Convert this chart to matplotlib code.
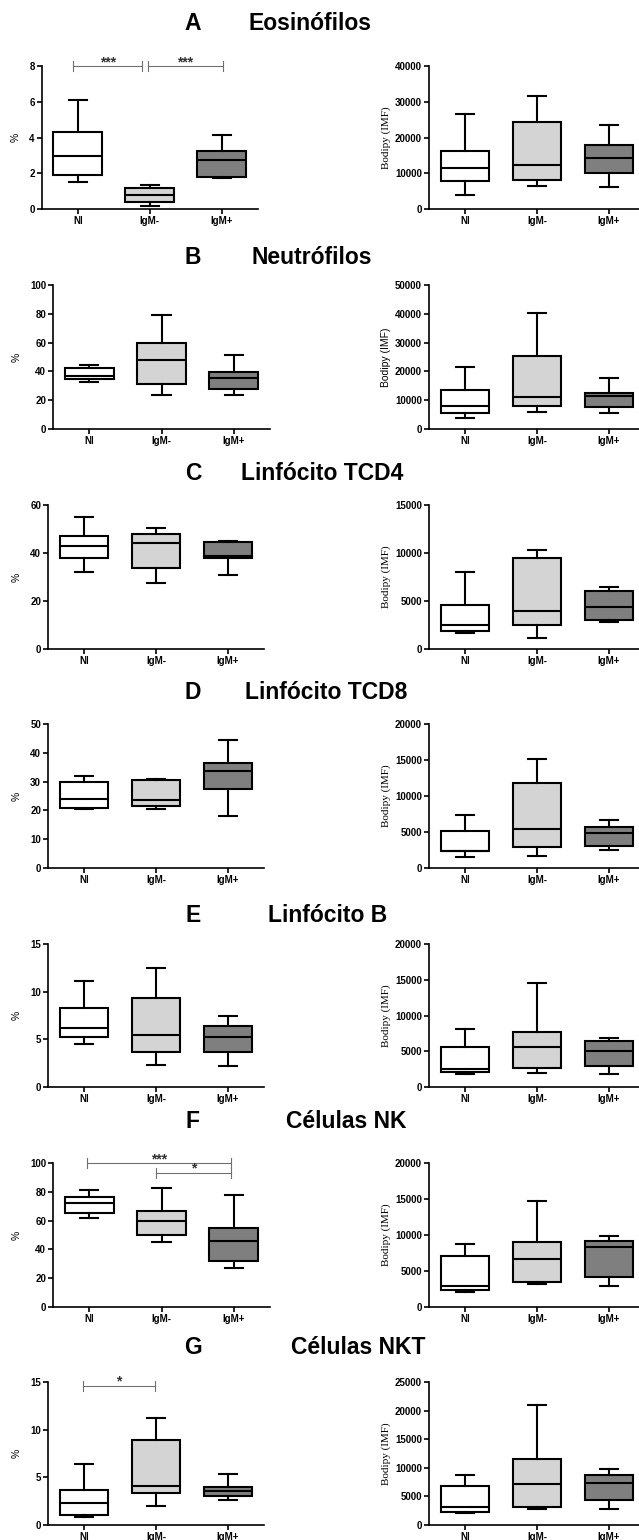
import matplotlib
matplotlib.use("Agg")
import matplotlib.pyplot as plt

W, H = 639, 1540
DPI = 100

categories = ["NI", "IgM-", "IgM+"]
box_colors = ["#ffffff", "#d4d4d4", "#7f7f7f"]

letters = ["A", "B", "C", "D", "E", "F", "G"]
names = ["Eosinófilos", "Neutrófilos", "Linfócito TCD4", "Linfócito TCD8",
         "Linfócito B", "Células NK", "Células NKT"]

# each group: [whisker low, Q1, median, Q3, whisker high]
eos_pct = [[1.51, 1.92, 2.98, 4.33, 6.07], [0.19, 0.39, 0.76, 1.17, 1.36], [1.73, 1.79, 2.72, 3.27, 4.13]]
eos_imf = [[4000, 7700, 11400, 16200, 26500], [6300, 8150, 12300, 24200, 31500], [6100, 10200, 14200, 18000, 23600]]
neu_pct = [[32.6, 34.4, 36.5, 42.7, 44.1], [23.3, 31.2, 47.8, 59.6, 79.2], [23.3, 27.7, 35.3, 39.3, 51.7]]
neu_imf = [[3700, 5400, 7850, 13400, 21700], [6000, 7850, 11000, 25300, 40400], [5500, 7500, 11500, 12600, 17800]]
cd4_pct = [[31.9, 38.1, 43.1, 47.1, 55.0], [27.6, 33.6, 44.2, 48.1, 50.3], [30.7, 37.8, 38.6, 44.5, 45.2]]
cd4_imf = [[1670, 1880, 2540, 4630, 8070], [1180, 2470, 3970, 9430, 10300], [2780, 2990, 4420, 5990, 6470]]
cd8_pct = [[20.5, 20.8, 23.8, 29.7, 32.0], [20.6, 21.5, 23.6, 30.6, 30.9], [18.1, 27.3, 33.6, 36.5, 44.3]]
cd8_imf = [[1490, 2330, 2420, 5070, 7350], [1630, 2880, 5440, 11770, 15070], [2500, 3050, 4850, 5750, 6700]]
lb_pct = [[4.56, 5.22, 6.20, 8.32, 11.14], [2.33, 3.69, 5.50, 9.33, 12.53], [2.23, 3.62, 5.22, 6.44, 7.41]]
lb_imf = [[1810, 2130, 2550, 5610, 8170], [1950, 2600, 5610, 7750, 14520], [1760, 2920, 5060, 6500, 6870]]
nk_pct = [[61.6, 65.3, 72.5, 76.4, 81.5], [45.1, 50.0, 60.0, 66.7, 82.6], [26.9, 32.2, 45.8, 55.1, 77.5]]
nk_imf = [[2080, 2410, 2920, 7130, 8700], [3150, 3470, 6670, 9030, 14720], [2920, 4210, 8330, 9120, 9860]]
nkt_pct = [[0.87, 1.08, 2.30, 3.65, 6.37], [1.95, 3.38, 4.11, 8.91, 11.21], [2.65, 2.99, 3.52, 4.00, 5.36]]
nkt_imf = [[2090, 2320, 3130, 6900, 8820], [2840, 3130, 7190, 11490, 21060], [2780, 4410, 7310, 8700, 9800]]

pct_data = [eos_pct, neu_pct, cd4_pct, cd8_pct, lb_pct, nk_pct, nkt_pct]
imf_data = [eos_imf, neu_imf, cd4_imf, cd8_imf, lb_imf, nk_imf, nkt_imf]

pct_ymax = [8, 100, 60, 50, 15, 100, 15]
pct_step = [2, 20, 20, 10, 5, 20, 5]
imf_ymax = [40000, 50000, 15000, 20000, 20000, 20000, 25000]
imf_step = [10000, 10000, 5000, 5000, 5000, 5000, 5000]

# significance annotations: (row, x_start, x_end, y, label)
sig_bars = [(0, -0.06, 0.89, 8.0, "***"), (0, 0.97, 2.01, 8.0, "***"),
            (5, -0.03, 1.96, 100.0, "***"), (5, 0.92, 1.96, 93.3, "*"),
            (6, -0.02, 0.99, 14.6, "*")]

# layout (pixels)
row_top = [66, 285, 505, 724, 944, 1163, 1382]
row_bot = [209, 429, 649, 868, 1087, 1307, 1525]
left_x = [(41.7, 258), (53, 270), (48, 264), (48, 264), (48, 264), (53, 270), (48, 264)]
right_x = (429, 645)
title_y = [23, 258, 473, 693, 916, 1121, 1348]
name_x = [310, 312, 322, 326, 328, 346, 358]

plt.rcParams["font.family"] = ["Liberation Sans", "DejaVu Sans"]

fig = plt.figure(figsize=(W / DPI, H / DPI), dpi=DPI)


def rect(x0, x1, yt, yb):
    return [x0 / W, 1 - yb / H, (x1 - x0) / W, (yb - yt) / H]


def draw_box(ax, data, ymax, step):
    stats = []
    for d in data:
        stats.append(dict(whislo=d[0], q1=d[1], med=d[2], q3=d[3], whishi=d[4], fliers=[]))
    bp = ax.bxp(stats, positions=[0, 1, 2], widths=0.68, capwidths=0.25,
                showfliers=False, patch_artist=True,
                boxprops=dict(linewidth=1.5, edgecolor="black"),
                medianprops=dict(linewidth=1.5, color="black"),
                whiskerprops=dict(linewidth=1.5, color="black"),
                capprops=dict(linewidth=1.5, color="black"))
    for patch, c in zip(bp["boxes"], box_colors):
        patch.set_facecolor(c)
    ax.set_xlim(-0.5, 2.5)
    ax.set_ylim(0, ymax)
    ax.set_yticks(range(0, ymax + 1, step))
    ax.set_xticks([0, 1, 2])
    ax.set_xticklabels(categories)
    for s in ["top", "right"]:
        ax.spines[s].set_visible(False)
    for s in ["left", "bottom"]:
        ax.spines[s].set_linewidth(1.2)
    ax.tick_params(axis="both", direction="out", length=3.5, width=1.2,
                   labelsize=7, pad=1.5)
    for lab in ax.get_xticklabels() + ax.get_yticklabels():
        lab.set_fontweight("bold")
    ax.patch.set_alpha(0)


for i in range(7):
    axl = fig.add_axes(rect(left_x[i][0], left_x[i][1], row_top[i], row_bot[i]))
    draw_box(axl, pct_data[i], pct_ymax[i], pct_step[i])
    axl.set_ylabel("%", fontsize=7.5, labelpad=6)

    axr = fig.add_axes(rect(right_x[0], right_x[1], row_top[i], row_bot[i]))
    draw_box(axr, imf_data[i], imf_ymax[i], imf_step[i])
    if i == 1:
        axr.set_ylabel("Bodipy (IMF)", fontsize=7.5, labelpad=3)
    else:
        axr.set_ylabel("Bodipy (IMF)", fontsize=8, labelpad=3,
                       family=["Liberation Serif", "DejaVu Serif"])

    for (r, xs, xe, yv, lab) in sig_bars:
        if r != i:
            continue
        tick = pct_ymax[i] * 0.035
        axl.plot([xs, xe], [yv, yv], color="#707070", lw=0.8, clip_on=False)
        axl.plot([xs, xs], [yv - tick, yv + tick], color="#707070", lw=0.8, clip_on=False)
        axl.plot([xe, xe], [yv - tick, yv + tick], color="#707070", lw=0.8, clip_on=False)
        axl.text((xs + xe) / 2, yv - tick * 0.6, lab, ha="center", va="bottom",
                 fontsize=10, fontweight="bold", color="#303030", clip_on=False)

    fig.text(193 / W, 1 - title_y[i] / H, letters[i], ha="center", va="center",
             fontsize=16.5, fontweight="bold")
    fig.text(name_x[i] / W, 1 - title_y[i] / H, names[i], ha="center", va="center",
             fontsize=16.5, fontweight="bold")

fig.savefig("out.png", dpi=DPI)
